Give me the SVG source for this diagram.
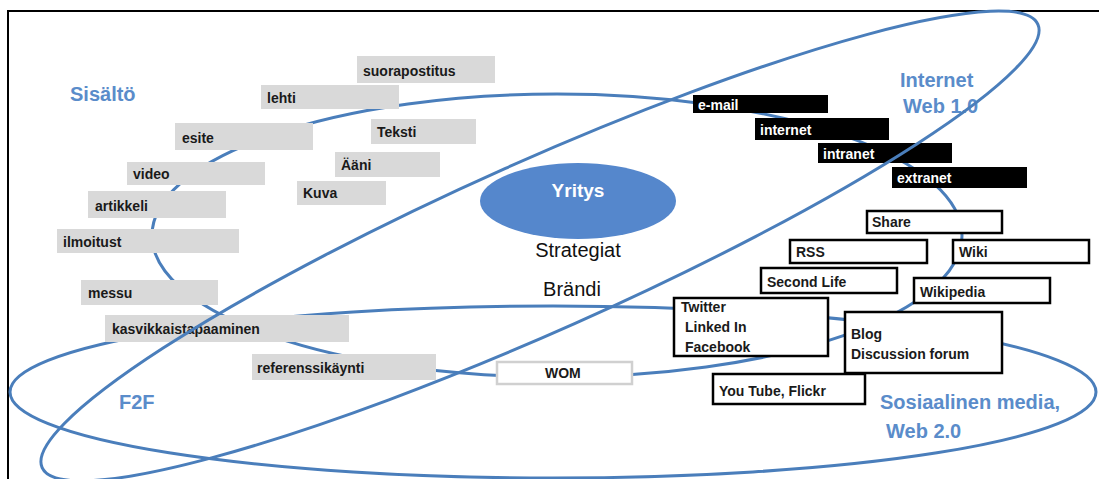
<svg xmlns="http://www.w3.org/2000/svg" width="1099" height="479" viewBox="0 0 1099 479">
<style>
.ring{fill:none;stroke:#4a7ebb;stroke-width:3}
.gray{fill:#d9d9d9}
.blk{fill:#000}
.wht{fill:#fff;stroke:#000;stroke-width:2.5}
.wom{fill:#fff;stroke:#d0d0d0;stroke-width:2.5}
.t{font-family:"Liberation Sans",Arial,sans-serif;font-size:14px;font-weight:bold;fill:#1a1a1a}
.tw{font-family:"Liberation Sans",Arial,sans-serif;font-size:14px;font-weight:bold;fill:#fff}
.lab{font-family:"Liberation Sans",Arial,sans-serif;font-size:20px;font-weight:bold;fill:#5a8cca}
.core{font-family:"Liberation Sans",Arial,sans-serif;font-size:20px;fill:#111}
</style>
<rect x="0" y="0" width="1099" height="479" fill="#fff"/>
<path d="M8,480 V11 H1100" fill="none" stroke="#000" stroke-width="2"/>
<g id="connectors">
<ellipse class="ring" cx="557" cy="235.5" rx="405" ry="141.5"/>
<ellipse class="ring" cx="553" cy="392" rx="543" ry="86"/>
</g>
<g id="labels">
<text class="lab" x="70" y="101">Sisältö</text>
<text class="lab" x="900" y="87" font-size="21">Internet</text>
<text class="lab" x="903" y="113" font-size="21">Web 1.0</text>
<text class="lab" x="119" y="409">F2F</text>
<text class="lab" x="880" y="409">Sosiaalinen media,</text>
<text class="lab" x="886" y="438">Web 2.0</text>
</g>
<g id="suorapostitus"><rect class="gray" x="357" y="56" width="138" height="27"/><text class="t" x="363" y="76">suorapostitus</text></g>
<g id="lehti"><rect class="gray" x="261" y="85" width="138" height="24"/><text class="t" x="267" y="103">lehti</text></g>
<g id="esite"><rect class="gray" x="175" y="123" width="138" height="27"/><text class="t" x="182" y="143">esite</text></g>
<g id="teksti"><rect class="gray" x="371" y="119" width="105" height="25"/><text class="t" x="377" y="137">Teksti</text></g>
<g id="aani"><rect class="gray" x="335" y="152" width="105" height="25"/><text class="t" x="341" y="170">Ääni</text></g>
<g id="kuva"><rect class="gray" x="297" y="181" width="89" height="24"/><text class="t" x="303" y="198">Kuva</text></g>
<g id="video"><rect class="gray" x="127" y="162" width="138" height="23"/><text class="t" x="133" y="179">video</text></g>
<g id="artikkeli"><rect class="gray" x="88" y="191" width="138" height="27"/><text class="t" x="95" y="211">artikkeli</text></g>
<g id="ilmoitust"><rect class="gray" x="57" y="229" width="182" height="24"/><text class="t" x="63" y="247">ilmoitust</text></g>
<g id="messu"><rect class="gray" x="81" y="280" width="137" height="25"/><text class="t" x="88" y="298">messu</text></g>
<g id="kasvikkaistapaaminen"><rect class="gray" x="105" y="315" width="244" height="27"/><text class="t" x="112" y="334">kasvikkaistapaaminen</text></g>
<g id="referenssikaynti"><rect class="gray" x="252" y="354" width="184" height="26"/><text class="t" x="257" y="373">referenssikäynti</text></g>
<g id="wom"><rect class="wom" x="497" y="362" width="135" height="22"/><text class="t" x="545" y="378">WOM</text></g>
<g id="email"><rect class="blk" x="693" y="95" width="135" height="18"/><text class="tw" x="698" y="110">e-mail</text></g>
<g id="internet"><rect class="blk" x="755" y="118" width="134" height="22"/><text class="tw" x="760" y="135">internet</text></g>
<g id="intranet"><rect class="blk" x="818" y="143" width="134" height="20"/><text class="tw" x="823" y="159">intranet</text></g>
<g id="extranet"><rect class="blk" x="892" y="167" width="135" height="21"/><text class="tw" x="897" y="183">extranet</text></g>
<g id="share"><rect class="wht" x="867" y="211" width="135" height="22"/><text class="t" x="872" y="227">Share</text></g>
<g id="rss"><rect class="wht" x="790" y="240" width="137" height="23"/><text class="t" x="796" y="257">RSS</text></g>
<g id="wiki"><rect class="wht" x="953" y="240" width="136" height="23"/><text class="t" x="959" y="257">Wiki</text></g>
<g id="secondlife"><rect class="wht" x="761" y="268" width="136" height="25"/><text class="t" x="767" y="287">Second Life</text></g>
<g id="wikipedia"><rect class="wht" x="914" y="278" width="136" height="25"/><text class="t" x="920" y="297">Wikipedia</text></g>
<g id="twitter"><rect class="wht" x="674" y="298" width="154" height="58"/><text class="t" x="681" y="312">Twitter</text><text class="t" x="685" y="332">Linked In</text><text class="t" x="685" y="352">Facebook</text></g>
<g id="blog"><rect class="wht" x="845" y="312" width="157" height="61"/><text class="t" x="851" y="339">Blog</text><text class="t" x="851" y="359">Discussion forum</text></g>
<g id="youtube"><rect class="wht" x="713" y="374" width="152" height="30"/><text class="t" x="719" y="396">You Tube, Flickr</text></g>
<g id="yritys"><ellipse cx="578" cy="201" rx="98" ry="38" fill="#5587cc"/><text x="578" y="197" text-anchor="middle" font-family="Liberation Sans, Arial, sans-serif" font-size="19" font-weight="bold" fill="#fff">Yritys</text></g>
<g id="strategiat"><text class="core" x="578" y="257" text-anchor="middle">Strategiat</text></g>
<g id="brandi"><text class="core" x="572" y="296" text-anchor="middle">Brändi</text></g>
<g id="internet-ring">
<ellipse class="ring" cx="540" cy="246" rx="545" ry="85" transform="rotate(-24 540 246)"/>
</g>
</svg>
